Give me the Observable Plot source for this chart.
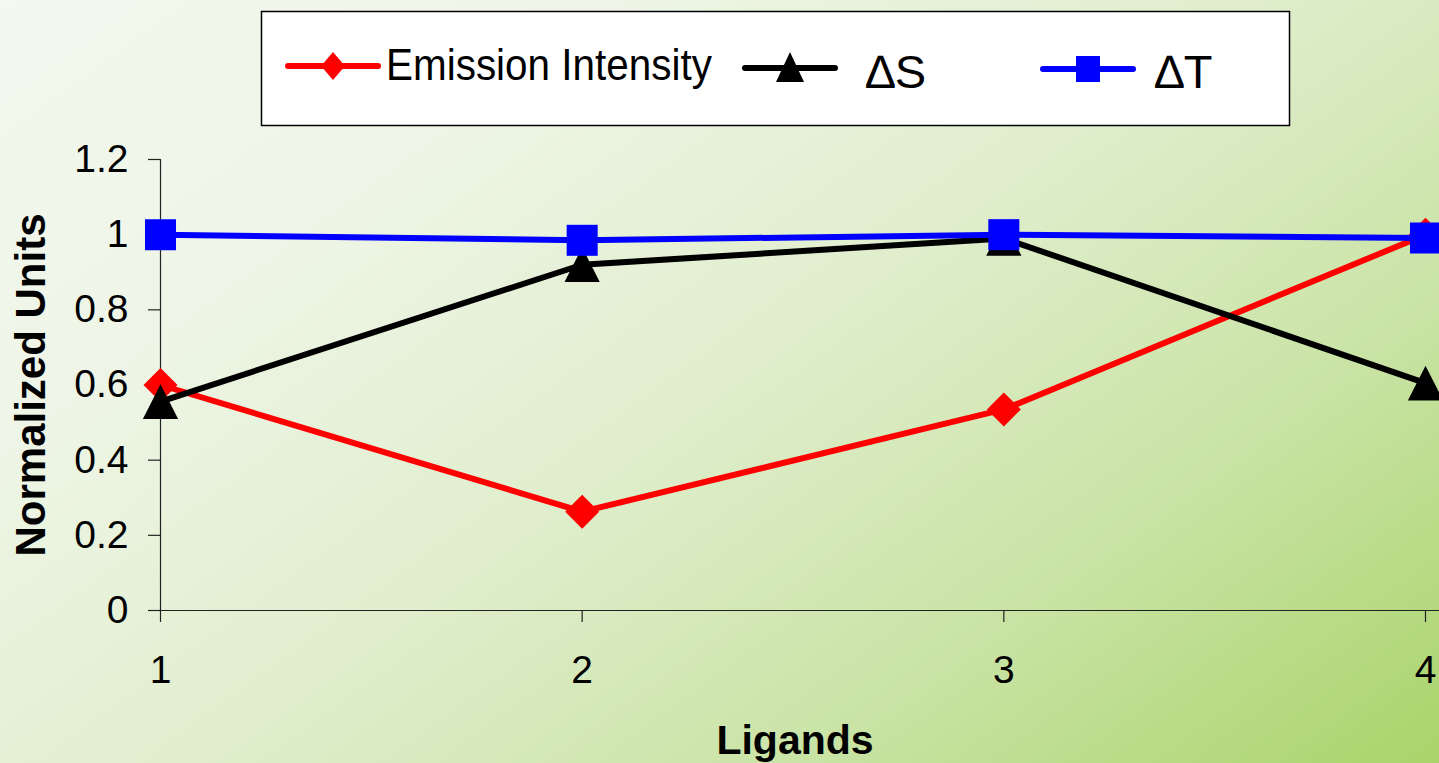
<!DOCTYPE html>
<html>
<head>
<meta charset="utf-8">
<script src="https://cdn.jsdelivr.net/npm/d3@7"></script>
<script src="https://cdn.jsdelivr.net/npm/@observablehq/plot@0.6"></script>
<style>
  html, body { margin: 0; padding: 0; overflow: hidden; }
  #chart {
    position: relative; width: 1439px; height: 763px;
    background: linear-gradient(144deg, #f4f8ef 0%, #eef5e6 25%, #e0eecd 50%, #c9e3a4 75%, #a9d46a 100%);
    font-family: "Liberation Sans", Arial, sans-serif;
  }
</style>
</head>
<body>
<div id="chart"></div>
<script>
// ---- data ----
const ligands = [1, 2, 3, 4];
const emissionIntensity = [0.6, 0.263, 0.535, 1.0];
const deltaS = [0.556, 0.92, 0.99, 0.605];
const deltaT = [1.0, 0.985, 1.0, 0.991];
const seriesNames = ["Emission Intensity", "\u2206S", "\u2206T"];
const seriesColors = ["#ff0000", "#000000", "#0000ff"];
const yTicks = [0, 0.2, 0.4, 0.6, 0.8, 1, 1.2];
const xTicks = [1, 2, 3, 4];
const yTitle = "Normalized Units";
const xTitle = "Ligands";

const toRows = (vals) => ligands.map((x, i) => ({x, y: vals[i]}));
const rowsE = toRows(emissionIntensity);
const rowsS = toRows(deltaS);
const rowsT = toRows(deltaT);

// triangle centered on its bounding box (like spreadsheet markers)
const triBox = {
  draw(ctx, size) {
    const s = Math.sqrt(size);
    const hw = s * 0.71, hh = s * 0.70;
    ctx.moveTo(0, -hh);
    ctx.lineTo(hw, hh);
    ctx.lineTo(-hw, hh);
    ctx.closePath();
  }
};

const font = '"Liberation Sans", Arial, sans-serif';

const plot = Plot.plot({
  width: 1439,
  height: 763,
  marginLeft: 160,
  marginRight: 0,
  marginTop: 159,
  marginBottom: 153,
  x: {domain: [1, 4.0332]},
  y: {domain: [0, 1.2]},
  style: {background: "transparent", fontFamily: font, overflow: "visible"},
  marks: [
    Plot.ruleY([0], {stroke: "#222", strokeWidth: 1.2}),
    Plot.ruleX([1], {stroke: "#222", strokeWidth: 1.2}),
    Plot.axisY({ticks: yTicks, tickSize: 12, tickPadding: 20, fontSize: 39, tickFormat: d => String(d), label: null, stroke: "#222", strokeWidth: 1.2, fill: "#000"}),
    Plot.axisX({ticks: xTicks, tickSize: 12, tickPadding: 33, fontSize: 39, tickFormat: d => String(d), label: null, stroke: "#222", strokeWidth: 1.2, fill: "#000"}),
    Plot.lineY(rowsE, {x: "x", y: "y", stroke: seriesColors[0], strokeWidth: 6, strokeLinejoin: "round"}),
    Plot.dot(rowsE, {x: "x", y: "y", symbol: "diamond2", r: 15.3, fill: seriesColors[0], stroke: "none"}),
    Plot.lineY(rowsS, {x: "x", y: "y", stroke: seriesColors[1], strokeWidth: 6, strokeLinejoin: "round"}),
    Plot.dot(rowsS, {x: "x", y: "y", symbol: triBox, r: 14, fill: seriesColors[1], stroke: "none"}),
    Plot.lineY(rowsT, {x: "x", y: "y", stroke: seriesColors[2], strokeWidth: 6, strokeLinejoin: "round"}),
    Plot.dot(rowsT, {x: "x", y: "y", symbol: "square", r: 17.5, fill: seriesColors[2], stroke: "none"})
  ]
});

document.getElementById("chart").appendChild(plot);

// ---- axis titles and legend ----
const svg = d3.select(plot);

svg.append("text")
  .attr("transform", "translate(45,385) rotate(-90)")
  .attr("text-anchor", "middle")
  .attr("font-family", font)
  .attr("font-weight", "bold")
  .attr("font-size", 42)
  .attr("fill", "#000")
  .text(yTitle);

svg.append("text")
  .attr("x", 795)
  .attr("y", 754)
  .attr("text-anchor", "middle")
  .attr("font-family", font)
  .attr("font-weight", "bold")
  .attr("font-size", 41)
  .attr("fill", "#000")
  .text(xTitle);

const lg = svg.append("g");
lg.append("rect")
  .attr("x", 261.5).attr("y", 11.5).attr("width", 1028).attr("height", 114)
  .attr("fill", "#fff").attr("stroke", "#000").attr("stroke-width", 1.5);

const legendItems = [
  {x0: 288, x1: 378, y: 66, tx: 386, ty: 80, fs: 44, tl: 326, sym: "diamond"},
  {x0: 745, x1: 835, y: 68, tx: 866, ty: 88, fs: 47, tl: null, sym: "triangle"},
  {x0: 1043, x1: 1133, y: 69, tx: 1155, ty: 88, fs: 47, tl: null, sym: "square"}
];
legendItems.forEach((it, i) => {
  const c = seriesColors[i];
  lg.append("line")
    .attr("x1", it.x0).attr("x2", it.x1).attr("y1", it.y).attr("y2", it.y)
    .attr("stroke", c).attr("stroke-width", 6).attr("stroke-linecap", "round");
  const cx = (it.x0 + it.x1) / 2;
  let path;
  if (it.sym === "diamond") {
    path = `M${cx},${it.y - 14}L${cx + 12},${it.y}L${cx},${it.y + 14}L${cx - 12},${it.y}Z`;
  } else if (it.sym === "triangle") {
    path = `M${cx},${it.y - 16}L${cx + 14},${it.y + 14}L${cx - 14},${it.y + 14}Z`;
  } else {
    path = `M${cx - 12},${it.y - 13}h24v26h-24Z`;
  }
  lg.append("path").attr("d", path).attr("fill", c);
  const t = lg.append("text")
    .attr("x", it.tx).attr("y", it.ty)
    .attr("text-anchor", "start")
    .attr("font-family", font)
    .attr("font-size", it.fs)
    .attr("fill", "#000")
    .text(seriesNames[i]);
  if (it.tl) t.attr("textLength", it.tl).attr("lengthAdjust", "spacingAndGlyphs");
});
</script>
</body>
</html>
